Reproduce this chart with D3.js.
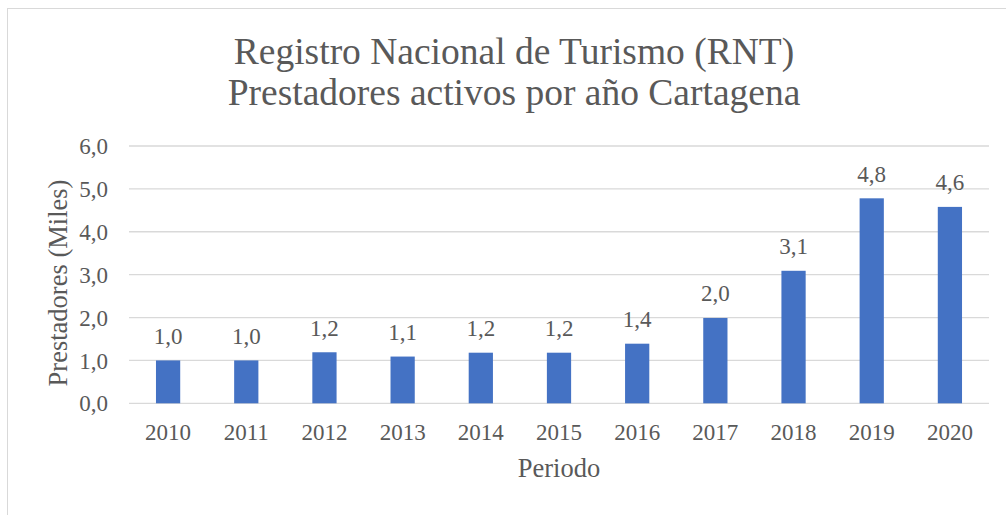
<!DOCTYPE html>
<html>
<head>
<meta charset="utf-8">
<script src="https://cdn.jsdelivr.net/npm/d3@7"></script>
<style>
  body { margin: 0; background: #fff; }
</style>
</head>
<body>
<svg id="chart" width="1006" height="515"></svg>
<script>
var years = ["2010", "2011", "2012", "2013", "2014", "2015", "2016", "2017", "2018", "2019", "2020"];
var prestadores = [1.0, 1.0, 1.19, 1.09, 1.18, 1.18, 1.39, 1.99, 3.09, 4.78, 4.58];
var yTicks = [0, 1, 2, 3, 4, 5, 6];
var titleLines = ["Registro Nacional de Turismo (RNT)", "Prestadores activos por año Cartagena"];

var plot = {left: 129, right: 989, top: 146, bottom: 403.3};
var serif = "'Liberation Serif', 'Times New Roman', Times, 'DejaVu Serif', serif";
var textColor = '#595959';

var svg = d3.select('#chart');

// chart frame
svg.append('rect')
  .attr('x', 7.5).attr('y', 8.5)
  .attr('width', 1010).attr('height', 520)
  .attr('fill', 'none')
  .attr('stroke', '#d9d9d9');

var x = d3.scaleBand()
  .domain(years)
  .range([plot.left, plot.right])
  .paddingInner(0.69)
  .paddingOuter(0.345);

var y = d3.scaleLinear()
  .domain([0, 6])
  .range([plot.bottom, plot.top]);

var fmt = function(v) { return d3.format('.1f')(v).replace('.', ','); };

var styleText = function(sel, size) {
  sel.style('font-family', serif)
    .style('font-size', size + 'px')
    .style('fill', textColor);
};

// gridlines
svg.append('g')
  .selectAll('line')
  .data(yTicks)
  .enter().append('line')
  .attr('x1', plot.left).attr('x2', plot.right)
  .attr('y1', d => y(d)).attr('y2', d => y(d))
  .attr('stroke', '#d9d9d9')
  .attr('stroke-width', 1.3);

// y axis labels
var yAxis = d3.axisLeft(y).tickValues(yTicks).tickFormat(fmt).tickSize(0).tickPadding(21);
svg.append('g')
  .attr('transform', 'translate(' + plot.left + ',0)')
  .call(yAxis)
  .call(g => g.select('.domain').remove())
  .selectAll('text')
  .call(styleText, 23)
  .attr('dy', '0.33em');

// x axis labels
var xAxis = d3.axisBottom(x).tickSize(0).tickPadding(20);
svg.append('g')
  .attr('transform', 'translate(0,' + plot.bottom + ')')
  .call(xAxis)
  .call(g => g.select('.domain').remove())
  .selectAll('text')
  .call(styleText, 23)
  .attr('dy', '0.71em');

// bars
svg.append('g')
  .selectAll('rect')
  .data(prestadores)
  .enter().append('rect')
  .attr('x', (d, i) => x(years[i]))
  .attr('y', d => y(d))
  .attr('width', x.bandwidth())
  .attr('height', d => y(0) - y(d))
  .attr('fill', '#4472c4');

// value labels
svg.append('g')
  .selectAll('text')
  .data(prestadores)
  .enter().append('text')
  .attr('x', (d, i) => x(years[i]) + x.bandwidth() / 2)
  .attr('y', d => y(d) - 16.5)
  .attr('text-anchor', 'middle')
  .call(styleText, 23)
  .text(d => fmt(d));

// title
svg.append('g')
  .selectAll('text')
  .data(titleLines)
  .enter().append('text')
  .attr('x', 514)
  .attr('y', (d, i) => 63.5 + i * 41.5)
  .attr('text-anchor', 'middle')
  .call(styleText, 37.5)
  .text(d => d);

// axis titles
svg.append('text')
  .attr('transform', 'translate(67,283) rotate(-90)')
  .attr('text-anchor', 'middle')
  .call(styleText, 26.5)
  .text('Prestadores (Miles)');

svg.append('text')
  .attr('x', (plot.left + plot.right) / 2)
  .attr('y', 476.7)
  .attr('text-anchor', 'middle')
  .call(styleText, 26.5)
  .text('Periodo');
</script>
</body>
</html>
